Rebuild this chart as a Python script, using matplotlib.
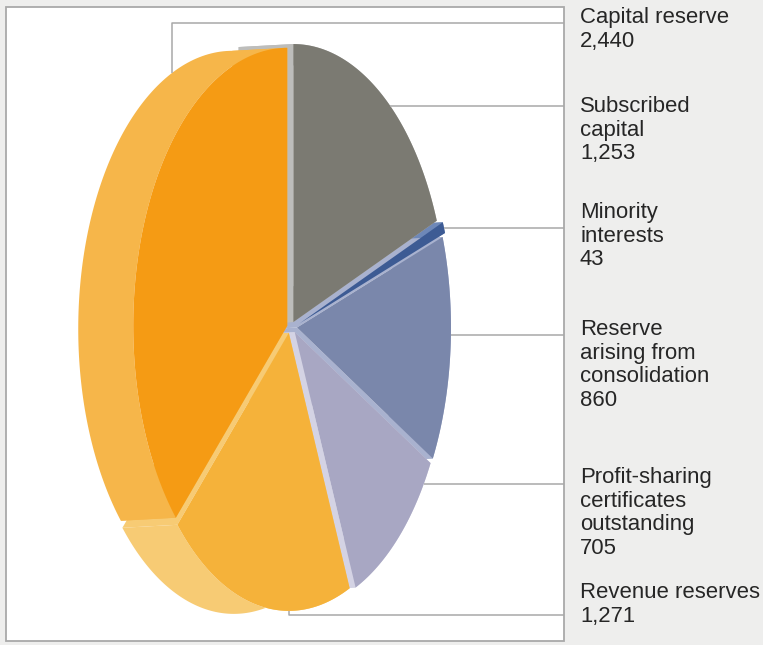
import numpy as np
import matplotlib.pyplot as plt
from matplotlib.patches import Polygon, Rectangle

# equity components, clockwise from 12 o'clock
labels = ["Subscribed\ncapital", "Minority\ninterests",
          "Reserve\narising from\nconsolidation",
          "Profit-sharing\ncertificates\noutstanding",
          "Revenue reserves", "Capital reserve"]
values = [1253, 43, 860, 705, 1271, 2440]

top_colors = ["#7b7a72", "#3d5b94", "#7a87ab", "#a8a7c3", "#f5b23a", "#f59b14"]
side_colors = ["#bdbdbb", "#6e88b8", "#a9b2cf", "#d4d3e4", "#f7cb74", "#f6b64a"]
explode = [6, 10, 7, 7, 6, 3]

# label block: first baseline of each block, leader anchor angle on the rim
label_y = [112, 218, 335, 483, 598, 23]
anchor_deg = [51, 20.2, -1.5, -33, 270, 113]

plt.rcParams['font.family'] = ['Liberation Sans', 'DejaVu Sans']

fig = plt.figure(figsize=(7.63, 6.45), dpi=100)
fig.patch.set_facecolor("#eeeeed")
ax = fig.add_axes([0, 0, 1, 1])
ax.set_xlim(0, 763)
ax.set_ylim(645, 0)
ax.axis("off")

# white panel behind the pie
ax.add_patch(Rectangle((6, 7), 558, 634, facecolor="white",
                       edgecolor="#a9a9a9", lw=1.3, zorder=0))

cx, cy = 290, 327      # centre of the top face
ra, rb = 154, 278      # ellipse half axes
depth = np.array([-55.0, 3.0])  # thickness of the disc, seen from the left

total = sum(values)
spans = [v / total * 360 for v in values]
starts = 90 - np.concatenate([[0], np.cumsum(spans)[:-1]])
ends = starts - np.array(spans)


def offset(i):
    mid = np.radians((starts[i] + ends[i]) / 2)
    return np.array([explode[i] * np.cos(mid), -explode[i] * np.sin(mid)])


def rim(i, deg):
    t = np.radians(np.atleast_1d(deg))
    o = offset(i)
    return np.column_stack([cx + o[0] + ra * np.cos(t), cy + o[1] - rb * np.sin(t)])


# side faces first (rim band and the two cut faces), back wedges first
for i in [1, 2, 3, 0, 4, 5]:
    arc = rim(i, np.linspace(ends[i], starts[i], 120))
    c = np.array([cx, cy]) + offset(i)
    band = np.vstack([arc, (arc + depth)[::-1]])
    ax.add_patch(Polygon(band, closed=True, facecolor=side_colors[i],
                         edgecolor="none", zorder=1))
    for deg in (ends[i], starts[i]):
        p = rim(i, deg)[0]
        quad = [c, p, p + depth, c + depth]
        ax.add_patch(Polygon(quad, closed=True, facecolor=side_colors[i],
                             edgecolor="none", zorder=1))

# top faces
for i in range(len(values)):
    arc = rim(i, np.linspace(ends[i], starts[i], 120))
    c = np.array([cx, cy]) + offset(i)
    ax.add_patch(Polygon(np.vstack([c, arc]), closed=True,
                         facecolor=top_colors[i], edgecolor="none", zorder=2))

# leader lines
line_kw = dict(color="#a8a8a8", lw=1.1, zorder=3, solid_capstyle="butt")
right_x = 564
for i in range(len(values)):
    p = rim(i, anchor_deg[i])[0]
    if labels[i] == "Capital reserve":
        p = p + depth
        ax.plot([p[0], p[0], right_x], [p[1], 23, 23], **line_kw)
    elif labels[i] == "Revenue reserves":
        ax.plot([p[0], p[0], right_x], [p[1], 615, 615], **line_kw)
    else:
        ax.plot([p[0], right_x], [p[1], p[1]], **line_kw)

# labels with values
for i in range(len(values)):
    lines = labels[i].split("\n") + [f"{values[i]:,}"]
    for k, s in enumerate(lines):
        ax.text(580, label_y[i] + k * 23.7, s, fontsize=15.9, color="#262626",
                ha="left", va="baseline")

fig.savefig("out.png", dpi=100, facecolor=fig.get_facecolor())
